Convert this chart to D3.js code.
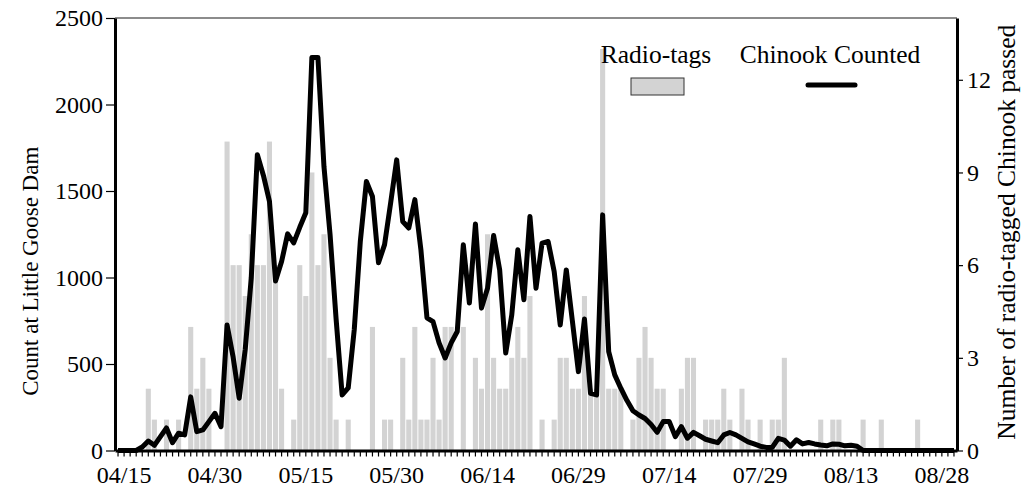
<!DOCTYPE html>
<html>
<head>
<meta charset="utf-8">
<script src="https://cdn.jsdelivr.net/npm/d3@7"></script>
<style>
  body { margin: 0; background: #fff; }
  text { font-family: "Liberation Serif", "Times New Roman", serif; fill: #000; }
</style>
</head>
<body>
<svg id="chart" width="1029" height="493"></svg>
<script>
// daily data, first day 04/14
const firstDay = "04/14";

const radioTags = [
  0, 0, 0, 0, 0, 2, 1, 0, 1, 0, 1, 0, 4, 2, 3, 2, 0, 0, 10, 6,
  6, 5, 7, 6, 6, 10, 6, 2, 0, 1, 6, 5, 9, 6, 7, 3, 1, 0, 1, 0,
  0, 0, 4, 0, 1, 1, 0, 3, 1, 4, 1, 1, 3, 1, 4, 4, 0, 4, 0, 3,
  2, 7, 3, 2, 2, 3, 4, 3, 5, 0, 1, 0, 1, 3, 3, 2, 2, 5, 2, 2,
  13, 2, 2, 2, 0, 1, 3, 4, 3, 2, 2, 0, 0, 2, 3, 3, 0, 1, 1, 1,
  2, 1, 0, 2, 1, 0, 1, 0, 1, 1, 3, 0, 0, 0, 0, 0, 1, 0, 1, 1,
  0, 0, 0, 1, 0, 0, 1, 0, 0, 0, 0, 0, 1, 0, 0, 0, 0, 0, 0
];

const chinookCounted = [
  0, 0, 0, 0, 20, 55, 30, 80, 130, 45, 100, 90, 310, 109, 119, 167, 215, 138, 726, 540,
  302, 585, 1000, 1710, 1590, 1440, 980, 1092, 1252, 1200, 1290, 1374, 2272, 2272, 1640, 1250, 760, 321, 362, 700,
  1210, 1555, 1468, 1085, 1190, 1430, 1680, 1324, 1286, 1450, 1160, 767, 745, 622, 535, 622, 688, 1189, 852, 1309,
  823, 938, 1243, 1045, 563, 784, 1160, 871, 1353, 938, 1199, 1208, 1035, 726, 1044, 750, 456, 760, 331, 321,
  1362, 572, 437, 360, 290, 230, 205, 185, 150, 105, 167, 167, 80, 138, 71, 105, 85, 65, 55, 45,
  90, 104, 90, 70, 50, 38, 25, 18, 18, 70, 60, 25, 62, 38, 46, 38, 32, 27, 38, 36,
  27, 30, 25, 0, 0, 0, 0, 0, 0, 0, 0, 0, 0, 0, 0, 0, 0, 0, 0
];

const countTicks = [0, 500, 1000, 1500, 2000, 2500];
const tagTicks = [0, 3, 6, 9, 12];
const dateLabels = ["04/15", "04/30", "05/15", "05/30", "06/14", "06/29", "07/14", "07/29", "08/13", "08/28"];

const width = 1029, height = 493;
const margin = {top: 18, right: 72, bottom: 42.5, left: 115};
const plotW = width - margin.left - margin.right;
const plotH = height - margin.top - margin.bottom;

const parseDay = d3.timeParse("%m/%d");
const fmtDay = d3.timeFormat("%m/%d");
const start = parseDay(firstDay);
const days = d3.timeDay.range(start, d3.timeDay.offset(start, radioTags.length)).map(fmtDay);

const svg = d3.select("#chart");
const g = svg.append("g").attr("transform", `translate(${margin.left},${margin.top})`);

const x = d3.scaleBand().domain(days).range([0, plotW]).paddingInner(0.16).paddingOuter(0.08);
const yCount = d3.scaleLinear().domain([0, 2500]).range([plotH, 0]);
const yTags = d3.scaleLinear().domain([0, 14]).range([plotH, 0]);

// plot border on top
g.append("line")
  .attr("x1", 0).attr("x2", plotW)
  .attr("y1", 0).attr("y2", 0)
  .attr("stroke", "#666").attr("stroke-width", 1.5);

// radio tag bars
g.selectAll("rect.bar")
  .data(radioTags)
  .enter().append("rect")
    .attr("class", "bar")
    .attr("x", (d, i) => x(days[i]))
    .attr("y", d => yTags(d))
    .attr("width", x.bandwidth())
    .attr("height", d => plotH - yTags(d))
    .attr("fill", "#d3d3d3");

// chinook counted line
const line = d3.line()
  .x((d, i) => x(days[i]) + x.bandwidth() / 2)
  .y(d => yCount(d));

g.append("path")
  .datum(chinookCounted)
  .attr("d", line)
  .attr("fill", "none")
  .attr("stroke", "#000")
  .attr("stroke-width", 5)
  .attr("stroke-linejoin", "round")
  .attr("stroke-linecap", "butt");

// axes
function styleAxis(sel, size) {
  sel.select(".domain").attr("stroke", "#000").attr("stroke-width", 3);
  sel.selectAll(".tick line").attr("stroke", "#000").attr("stroke-width", 1.2);
  sel.selectAll(".tick text").style("font-size", size + "px").style("font-family", '"Liberation Serif", serif');
}

g.append("g")
  .call(d3.axisLeft(yCount).tickValues(countTicks).tickFormat(d3.format("d"))
    .tickSize(9).tickSizeOuter(0).tickPadding(3))
  .call(styleAxis, 24);

g.append("g")
  .attr("transform", `translate(${plotW},0)`)
  .call(d3.axisRight(yTags).tickValues(tagTicks).tickSize(6).tickSizeOuter(0).tickPadding(4))
  .call(styleAxis, 24);

g.append("g")
  .attr("transform", `translate(0,${plotH})`)
  .call(d3.axisBottom(x).tickSize(6).tickSizeOuter(0).tickPadding(9)
    .tickFormat(d => dateLabels.includes(d) ? d : ""))
  .call(styleAxis, 24);

// axis titles
svg.append("text")
  .attr("transform", `translate(38,${margin.top + plotH / 2 + 37}) rotate(-90)`)
  .attr("text-anchor", "middle")
  .style("font-size", "23px")
  .text("Count at Little Goose Dam");

svg.append("text")
  .attr("transform", `translate(1015,${margin.top + plotH / 2 - 2}) rotate(-90)`)
  .attr("text-anchor", "middle")
  .style("font-size", "25.5px")
  .text("Number of radio-tagged Chinook passed");

// legend
const legend = svg.append("g");
legend.append("text")
  .attr("x", 656).attr("y", 63)
  .attr("text-anchor", "middle")
  .style("font-size", "25.5px")
  .text("Radio-tags");
legend.append("rect")
  .attr("x", 631).attr("y", 78).attr("width", 53).attr("height", 17)
  .attr("fill", "#d3d3d3").attr("stroke", "#333").attr("stroke-width", 1);

legend.append("text")
  .attr("x", 830).attr("y", 63)
  .attr("text-anchor", "middle")
  .style("font-size", "25.5px")
  .text("Chinook Counted");
legend.append("line")
  .attr("x1", 808).attr("x2", 855).attr("y1", 85).attr("y2", 85)
  .attr("stroke", "#000").attr("stroke-width", 5).attr("stroke-linecap", "round");
</script>
</body>
</html>
